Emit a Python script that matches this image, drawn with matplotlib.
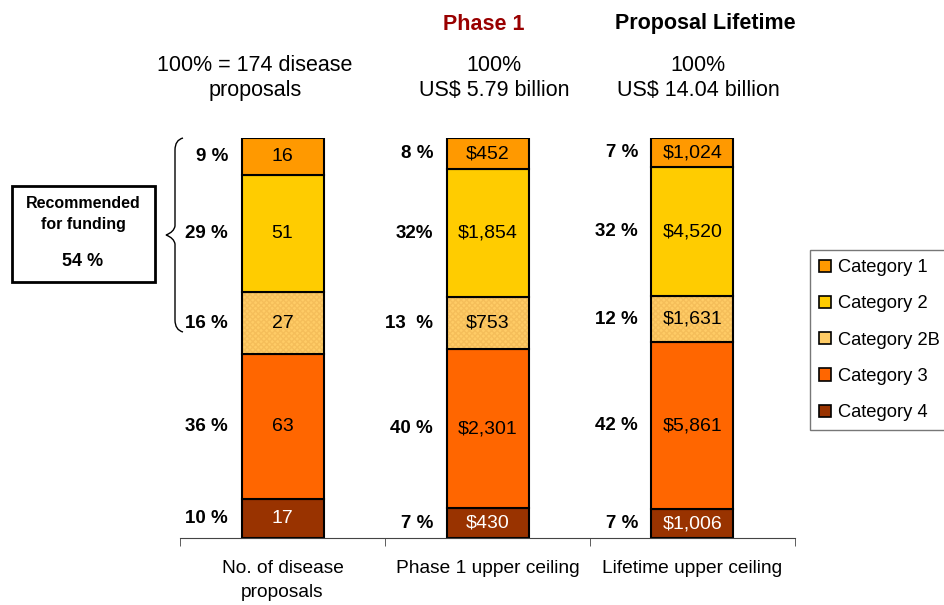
import matplotlib.pyplot as plt
from matplotlib.patches import FancyBboxPatch, PathPatch
from matplotlib.path import Path

plt.rcParams['font.family'] = ['Liberation Sans', 'DejaVu Sans']

# -- Data ------------------------------------------------------------------
bar_names = ["No. of disease\nproposals", "Phase 1 upper ceiling", "Lifetime upper ceiling"]
categories = ["Category 4", "Category 3", "Category 2B", "Category 2", "Category 1"]
colors = ["#993300", "#FF6600", "#FFCC66", "#FFCC00", "#FF9900"]

counts = [17, 63, 27, 51, 16]
phase1 = [430, 2301, 753, 1854, 452]
lifetime = [1006, 5861, 1631, 4520, 1024]

count_labels = ["17", "63", "27", "51", "16"]
phase1_labels = ["$430", "$2,301", "$753", "$1,854", "$452"]
lifetime_labels = ["$1,006", "$5,861", "$1,631", "$4,520", "$1,024"]

pct_counts = ["10 %", "36 %", "16 %", "29 %", "9 %"]
pct_phase1 = ["7 %", "40 %", "13  %", "32%", "8 %"]
pct_lifetime = ["7 %", "42 %", "12 %", "32 %", "7 %"]

headers = ["100% = 174 disease\nproposals", "100%\nUS$ 5.79 billion", "100%\nUS$ 14.04 billion"]

# -- Figure ----------------------------------------------------------------
fig = plt.figure(figsize=(9.44, 6.05), dpi=100)
ax = fig.add_axes([180 / 944, 67 / 605, 615 / 944, 400 / 605])

series = [counts, phase1, lifetime]
labels = [count_labels, phase1_labels, lifetime_labels]
pcts = [pct_counts, pct_phase1, pct_lifetime]
width = 0.4

for i, vals in enumerate(series):
    total = float(sum(vals))
    bottom = 0.0
    for j, v in enumerate(vals):
        h = v / total * 100
        if categories[j] == "Category 2B":
            ax.bar(i, h, width, bottom=bottom, color=colors[j], hatch="xxxxxx",
                   edgecolor="#F5BE5A", linewidth=0)
            ax.bar(i, h, width, bottom=bottom, fill=False, edgecolor="black",
                   linewidth=1.5)
        else:
            ax.bar(i, h, width, bottom=bottom, color=colors[j], edgecolor="black",
                   linewidth=1.5)
        txt_color = "white" if categories[j] == "Category 4" else "black"
        ax.text(i, bottom + h / 2, labels[i][j], ha="center", va="center",
                fontsize=14, color=txt_color)
        ax.text(i - 0.265, bottom + h / 2, pcts[i][j], ha="right", va="center",
                fontsize=13.5, fontweight="bold")
        bottom += h

# legend handles in top-down order
handles = [plt.Rectangle((0, 0), 1, 1, facecolor=colors[k], edgecolor="black",
                         linewidth=1.2) for k in range(4, -1, -1)]
leg = fig.legend(handles, categories[::-1], loc="upper left",
                 bbox_to_anchor=(810 / 944, 1 - 250 / 605), fontsize=13.2,
                 frameon=True, fancybox=False, edgecolor="#555555",
                 handlelength=0.65, handleheight=0.65, labelspacing=1.05,
                 borderpad=0.5, handletextpad=0.35, borderaxespad=0)
leg.get_frame().set_linewidth(1.0)

ax.set_xlim(-0.5, 2.5)
ax.set_ylim(0, 100)
for s in ["top", "right", "left"]:
    ax.spines[s].set_visible(False)
ax.spines["bottom"].set_color("#444444")
ax.set_yticks([])
ax.set_xticks([0, 1, 2])
ax.set_xticklabels(bar_names, fontsize=13.8, linespacing=1.55)
ax.tick_params(axis="x", which="major", length=0, pad=16)
ax.set_xticks([-0.5, 0.5, 1.5, 2.5], minor=True)
ax.tick_params(axis="x", which="minor", length=6, direction="out", color="#444444")

# headers
fig.text(484 / 944, 1 - 24 / 605, "Phase 1", ha="center", va="center",
         fontsize=15.5, fontweight="bold", color="#990000")
fig.text(705 / 944, 1 - 24 / 605, "Proposal Lifetime", ha="center", va="center",
         fontsize=15.5, fontweight="bold")
for x, h in zip([255, 494, 698], headers):
    fig.text(x / 944, 1 - 78 / 605, h, ha="center", va="center", fontsize=15.5,
             linespacing=1.2)

# brace
bx = 175 / 944
def fy(p):
    return 1 - p / 605
verts = [(bx + 8 / 944, fy(138)), (bx, fy(140)), (bx, fy(150)),
         (bx, fy(180)), (bx, fy(226)), (bx - 1 / 944, fy(232)),
         (bx - 9 / 944, fy(235)),
         (bx - 1 / 944, fy(238)), (bx, fy(244)), (bx, fy(290)),
         (bx, fy(320)), (bx, fy(330)), (bx + 8 / 944, fy(332))]
codes = [Path.MOVETO, Path.CURVE3, Path.CURVE3, Path.LINETO, Path.LINETO,
         Path.CURVE3, Path.CURVE3, Path.CURVE3, Path.CURVE3, Path.LINETO,
         Path.LINETO, Path.CURVE3, Path.CURVE3]
fig.patches.append(PathPatch(Path(verts, codes), transform=fig.transFigure,
                             fill=False, edgecolor="black", linewidth=1.0))

# recommended box
box = FancyBboxPatch((12 / 944, 1 - 282 / 605), 143 / 944, 96 / 605,
                     boxstyle="square,pad=0", transform=fig.transFigure,
                     facecolor="white", edgecolor="black", linewidth=2)
fig.patches.append(box)
fig.text(83 / 944, 1 - 214 / 605, "Recommended\nfor funding", ha="center",
         va="center", fontsize=11.5, fontweight="bold", linespacing=1.5)
fig.text(83 / 944, 1 - 261 / 605, "54 %", ha="center", va="center",
         fontsize=13, fontweight="bold")

fig.savefig("out.png", dpi=100)
